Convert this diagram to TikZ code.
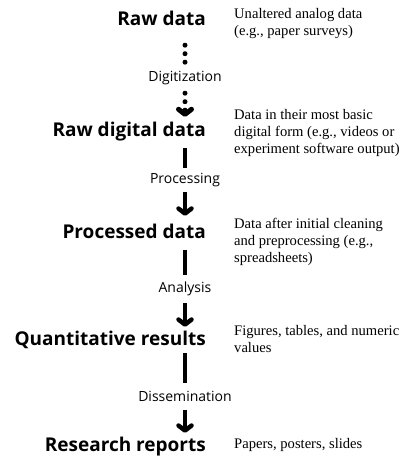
\documentclass[tikz,border=0pt]{standalone}
\usepackage{fontspec}
\setmainfont{Liberation Serif}
\setsansfont{Open Sans}
\usepackage{tikz}
\usetikzlibrary{arrows.meta,positioning}
\tikzset{
  stage/.style={anchor=east, inner sep=0pt, text height=14pt, text depth=4pt, font=\sffamily\bfseries\fontsize{19}{22}\selectfont},
  steplabel/.style={inner sep=0pt, text height=10pt, text depth=3pt, font=\sffamily\fontsize{14}{16}\selectfont},
  note/.style={anchor=base west, inner sep=0pt, align=left, font=\rmfamily\fontsize{14.6}{16.6}\selectfont},
  bar/.style={line width=4.5pt},
  arrow/.style={line width=4.5pt, -{Straight Barb[round, length=5pt, width=13pt]}},
  dots/.style={line width=5pt, line cap=round, dash pattern=on 0pt off 8.5pt}
}

\begin{document}
\begin{tikzpicture}[x=1pt, y=-1pt]
\useasboundingbox (0,0) rectangle (414,456);
\node[stage] (raw) at (206,20) {Raw data};
\node[stage] (digital) at (206,131) {Raw digital data};
\node[stage] (processed) at (206,233) {Processed data};
\node[stage] (results) at (206,340) {Quantitative results};
\node[stage] (reports) at (206,446) {Research reports};
\node[steplabel] (digitize) at (185,78) {Digitization};
\node[steplabel] (process) at (185,180) {Processing};
\node[steplabel] (analyse) at (185,289) {Analysis};
\node[steplabel] (share) at (185,398) {Dissemination};
% notes: placed at the baseline of their last line
\node[note] (rawnote) at (234,35) {Unaltered analog data\\(e.g., paper surveys)};
\node[note] (digitalnote) at (234,153) {Data in their most basic\\digital form (e.g., videos or\\experiment software output)};
\node[note] (processednote) at (234,262) {Data after initial cleaning\\and preprocessing (e.g.,\\spreadsheets)};
\node[note] (resultsnote) at (234,352) {Figures, tables, and numeric\\values};
\node[note] (reportsnote) at (234,448) {Papers, posters, slides};
% raw -> digital (dotted)
\draw[dots, shorten <=16pt, shorten >=9pt] (digitize.north |- raw.south) -- (digitize.north);
\draw[dots, shorten <=8.5pt, shorten >=5pt, -{Straight Barb[round, length=5pt, width=13pt]}] (digitize.south) -- (digitize.south |- digital.north);
% digital -> processed
\draw[bar, shorten <=8pt, shorten >=5.5pt] (process.north |- digital.south) -- (process.north);
\draw[arrow, shorten <=5.5pt, shorten >=8pt] (process.south) -- (process.south |- processed.north);
% processed -> results
\draw[bar, shorten <=8pt, shorten >=7.5pt] (analyse.north |- processed.south) -- (analyse.north);
\draw[arrow, shorten <=7.5pt, shorten >=4pt] (analyse.south) -- (analyse.south |- results.north);
% results -> reports
\draw[bar, shorten <=4pt, shorten >=8.5pt] (share.north |- results.south) -- (share.north);
\draw[arrow, shorten <=5.5pt, shorten >=4pt] (share.south) -- (share.south |- reports.north);
\end{tikzpicture}
\end{document}
